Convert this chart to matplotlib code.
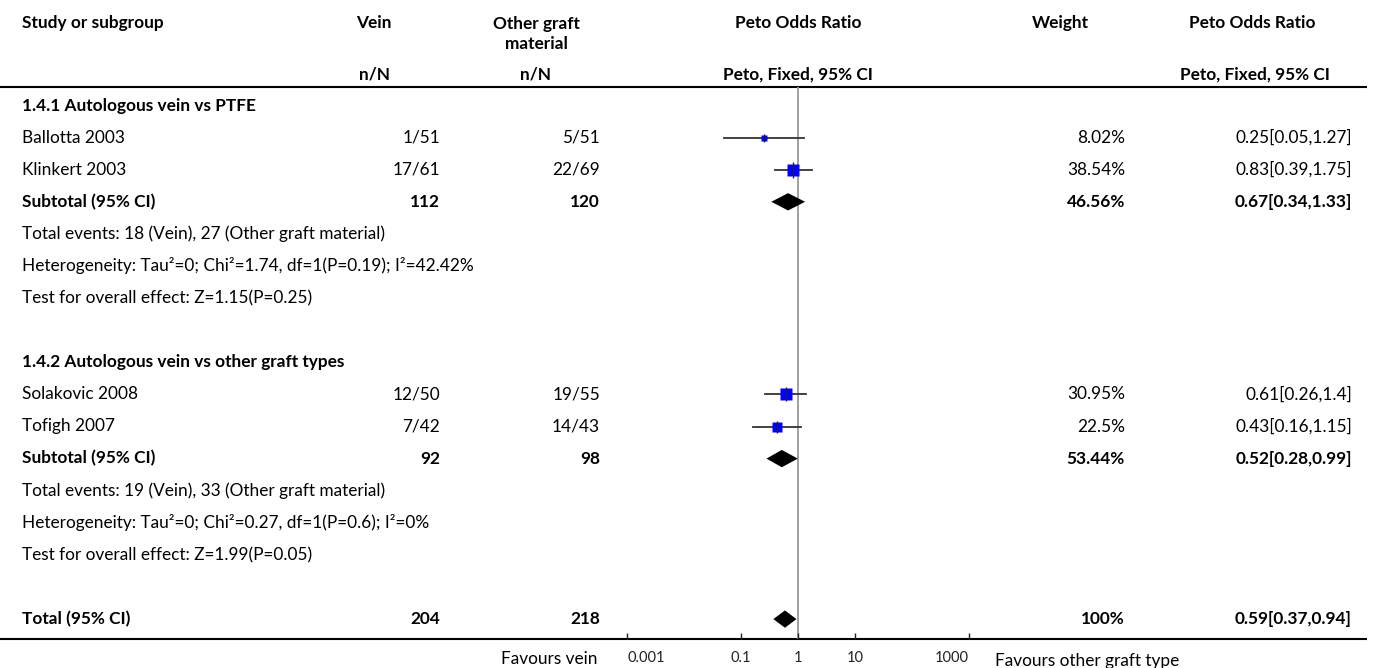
import matplotlib
matplotlib.use("Agg")
import matplotlib.pyplot as plt
import matplotlib.transforms as mtransforms
import numpy as np

plt.rcParams['font.family'] = ['Lato', 'DejaVu Sans']

# study level data
studies = ["Ballotta 2003", "Klinkert 2003", "Solakovic 2008", "Tofigh 2007"]
study_group = [0, 0, 1, 1]
vein_n = [1, 17, 12, 7]
vein_N = [51, 61, 50, 42]
other_n = [5, 22, 19, 14]
other_N = [51, 69, 55, 43]
weights = [8.02, 38.54, 30.95, 22.5]
or_est = [0.25, 0.83, 0.61, 0.43]
or_lo = [0.05, 0.39, 0.26, 0.16]
or_hi = [1.27, 1.75, 1.4, 1.15]

# subgroups
groups = ["1.4.1 Autologous vein vs PTFE", "1.4.2 Autologous vein vs other graft types"]
sub_vein_N = [112, 92]
sub_other_N = [120, 98]
sub_weight = [46.56, 53.44]
sub_or = [0.67, 0.52]
sub_lo = [0.34, 0.28]
sub_hi = [1.33, 0.99]
sub_events = ["Total events: 18 (Vein), 27 (Other graft material)",
              "Total events: 19 (Vein), 33 (Other graft material)"]
sub_het = ["Heterogeneity: Tau\u00b2=0; Chi\u00b2=1.74, df=1(P=0.19); I\u00b2=42.42%",
           "Heterogeneity: Tau\u00b2=0; Chi\u00b2=0.27, df=1(P=0.6); I\u00b2=0%"]
sub_test = ["Test for overall effect: Z=1.15(P=0.25)",
            "Test for overall effect: Z=1.99(P=0.05)"]

# overall
tot_vein_N = 204
tot_other_N = 218
tot_weight = 100
tot_or = 0.59
tot_lo = 0.37
tot_hi = 0.94

tick_vals = [0.001, 0.1, 1, 10, 1000]
tick_labels = ["0.001", "0.1", "1", "10", "1000"]

W, H = 1375, 668
fig = plt.figure(figsize=(W / 100, H / 100), dpi=100)
ax = fig.add_axes([0, 0, 1, 1])
ax.set_xlim(0, W)
ax.set_ylim(H, 0)
ax.axis('off')

# forest panel, pixel box
px0, px1 = 627, 969
py_top, py_bot = 87, 639
row0, drow = 105.5, 32.1
fax = fig.add_axes([px0 / W, (H - py_bot) / H, (px1 - px0) / W, (py_bot - py_top) / H])
fax.set_xscale('log')
fax.set_xlim(0.001, 1000)
fax.set_ylim((py_bot - row0) / drow, (py_top - row0) / drow)
fax.patch.set_alpha(0)
for s in ['top', 'left', 'right', 'bottom']:
    fax.spines[s].set_visible(False)
fax.set_yticks([])
fax.set_xticks(tick_vals)
fax.set_xticklabels(tick_labels)
fax.xaxis.set_minor_locator(matplotlib.ticker.NullLocator())
fax.tick_params(axis='x', direction='in', length=4.5, width=1, labelsize=10.5, pad=9, colors='#222222')
labs = fax.get_xticklabels()
labs[0].set_ha('left')
labs[-1].set_ha('right')

tr = mtransforms.blended_transform_factory(ax.transData, fax.transData)

FS = 12.4
LX = 22
def txt(x, r, s, ha='left', bold=False):
    ax.text(x, r, s, transform=tr, ha=ha, va='center', fontsize=FS,
            fontweight='bold' if bold else 'normal', color='black')

def head(x, y, s, ha='center', ls=1.0):
    ax.text(x, y, s, ha=ha, va='center', fontsize=FS, fontweight='bold', linespacing=ls)

# header
head(LX, 23, "Study or subgroup", ha='left')
head(374, 23, "Vein")
head(536, 34, "Other graft\nmaterial", ls=1.28)
head(798, 23, "Peto Odds Ratio")
head(1060, 23, "Weight")
head(1252, 23, "Peto Odds Ratio")
head(375, 75, "n/N")
head(536, 75, "n/N")
head(798, 75, "Peto, Fixed, 95% CI")
head(1330, 75, "Peto, Fixed, 95% CI", ha='right')
ax.plot([0, 1367], [py_top, py_top], color='black', lw=1.5, solid_capstyle='butt')
ax.plot([0, 1367], [py_bot, py_bot], color='black', lw=1.5, solid_capstyle='butt')

# null line
fax.axvline(1, color='#999999', lw=1.3, zorder=1)

def diamond(r, lo, est, hi):
    h = 0.27
    fax.fill([lo, est, hi, est], [r, r - h, r, r + h], color='black', lw=0, zorder=3)

CX1, CX2, CW, CO = 440, 600, 1125, 1352

row = 0
for g in range(len(groups)):
    txt(LX, row, groups[g], bold=True)
    row += 1
    for i in range(len(studies)):
        if study_group[i] != g:
            continue
        txt(LX, row, studies[i])
        txt(CX1, row, f"{vein_n[i]}/{vein_N[i]}", ha='right')
        txt(CX2, row, f"{other_n[i]}/{other_N[i]}", ha='right')
        txt(CW, row, f"{weights[i]:g}%", ha='right')
        txt(CO, row, f"{or_est[i]:g}[{or_lo[i]:g},{or_hi[i]:g}]", ha='right')
        fax.plot([or_lo[i], or_hi[i]], [row, row], color='#333333', lw=1.3, zorder=2)
        side = 2.0 * np.sqrt(weights[i]) * 0.72
        fax.plot([or_est[i]], [row], marker='s', ms=side, color='#0000ff', mec='none', zorder=3)
        fax.plot([or_est[i]], [row], marker='|', ms=side * 1.3, color='#222222', mew=1, zorder=4)
        row += 1
    txt(LX, row, "Subtotal (95% CI)", bold=True)
    txt(CX1, row, f"{sub_vein_N[g]}", ha='right', bold=True)
    txt(CX2, row, f"{sub_other_N[g]}", ha='right', bold=True)
    txt(CW, row, f"{sub_weight[g]:g}%", ha='right', bold=True)
    txt(CO, row, f"{sub_or[g]:g}[{sub_lo[g]:g},{sub_hi[g]:g}]", ha='right', bold=True)
    diamond(row, sub_lo[g], sub_or[g], sub_hi[g])
    row += 1
    txt(LX, row, sub_events[g]); row += 1
    txt(LX, row, sub_het[g]); row += 1
    txt(LX, row, sub_test[g]); row += 2

txt(LX, row, "Total (95% CI)", bold=True)
txt(CX1, row, f"{tot_vein_N}", ha='right', bold=True)
txt(CX2, row, f"{tot_other_N}", ha='right', bold=True)
txt(CW, row, f"{tot_weight:g}%", ha='right', bold=True)
txt(CO, row, f"{tot_or:g}[{tot_lo:g},{tot_hi:g}]", ha='right', bold=True)
diamond(row, tot_lo, tot_or, tot_hi)

ax.text(598, 659, "Favours vein", ha='right', va='center', fontsize=FS)
ax.text(995, 661, "Favours other graft type", ha='left', va='center', fontsize=FS)

fig.savefig("out.png", dpi=100)
